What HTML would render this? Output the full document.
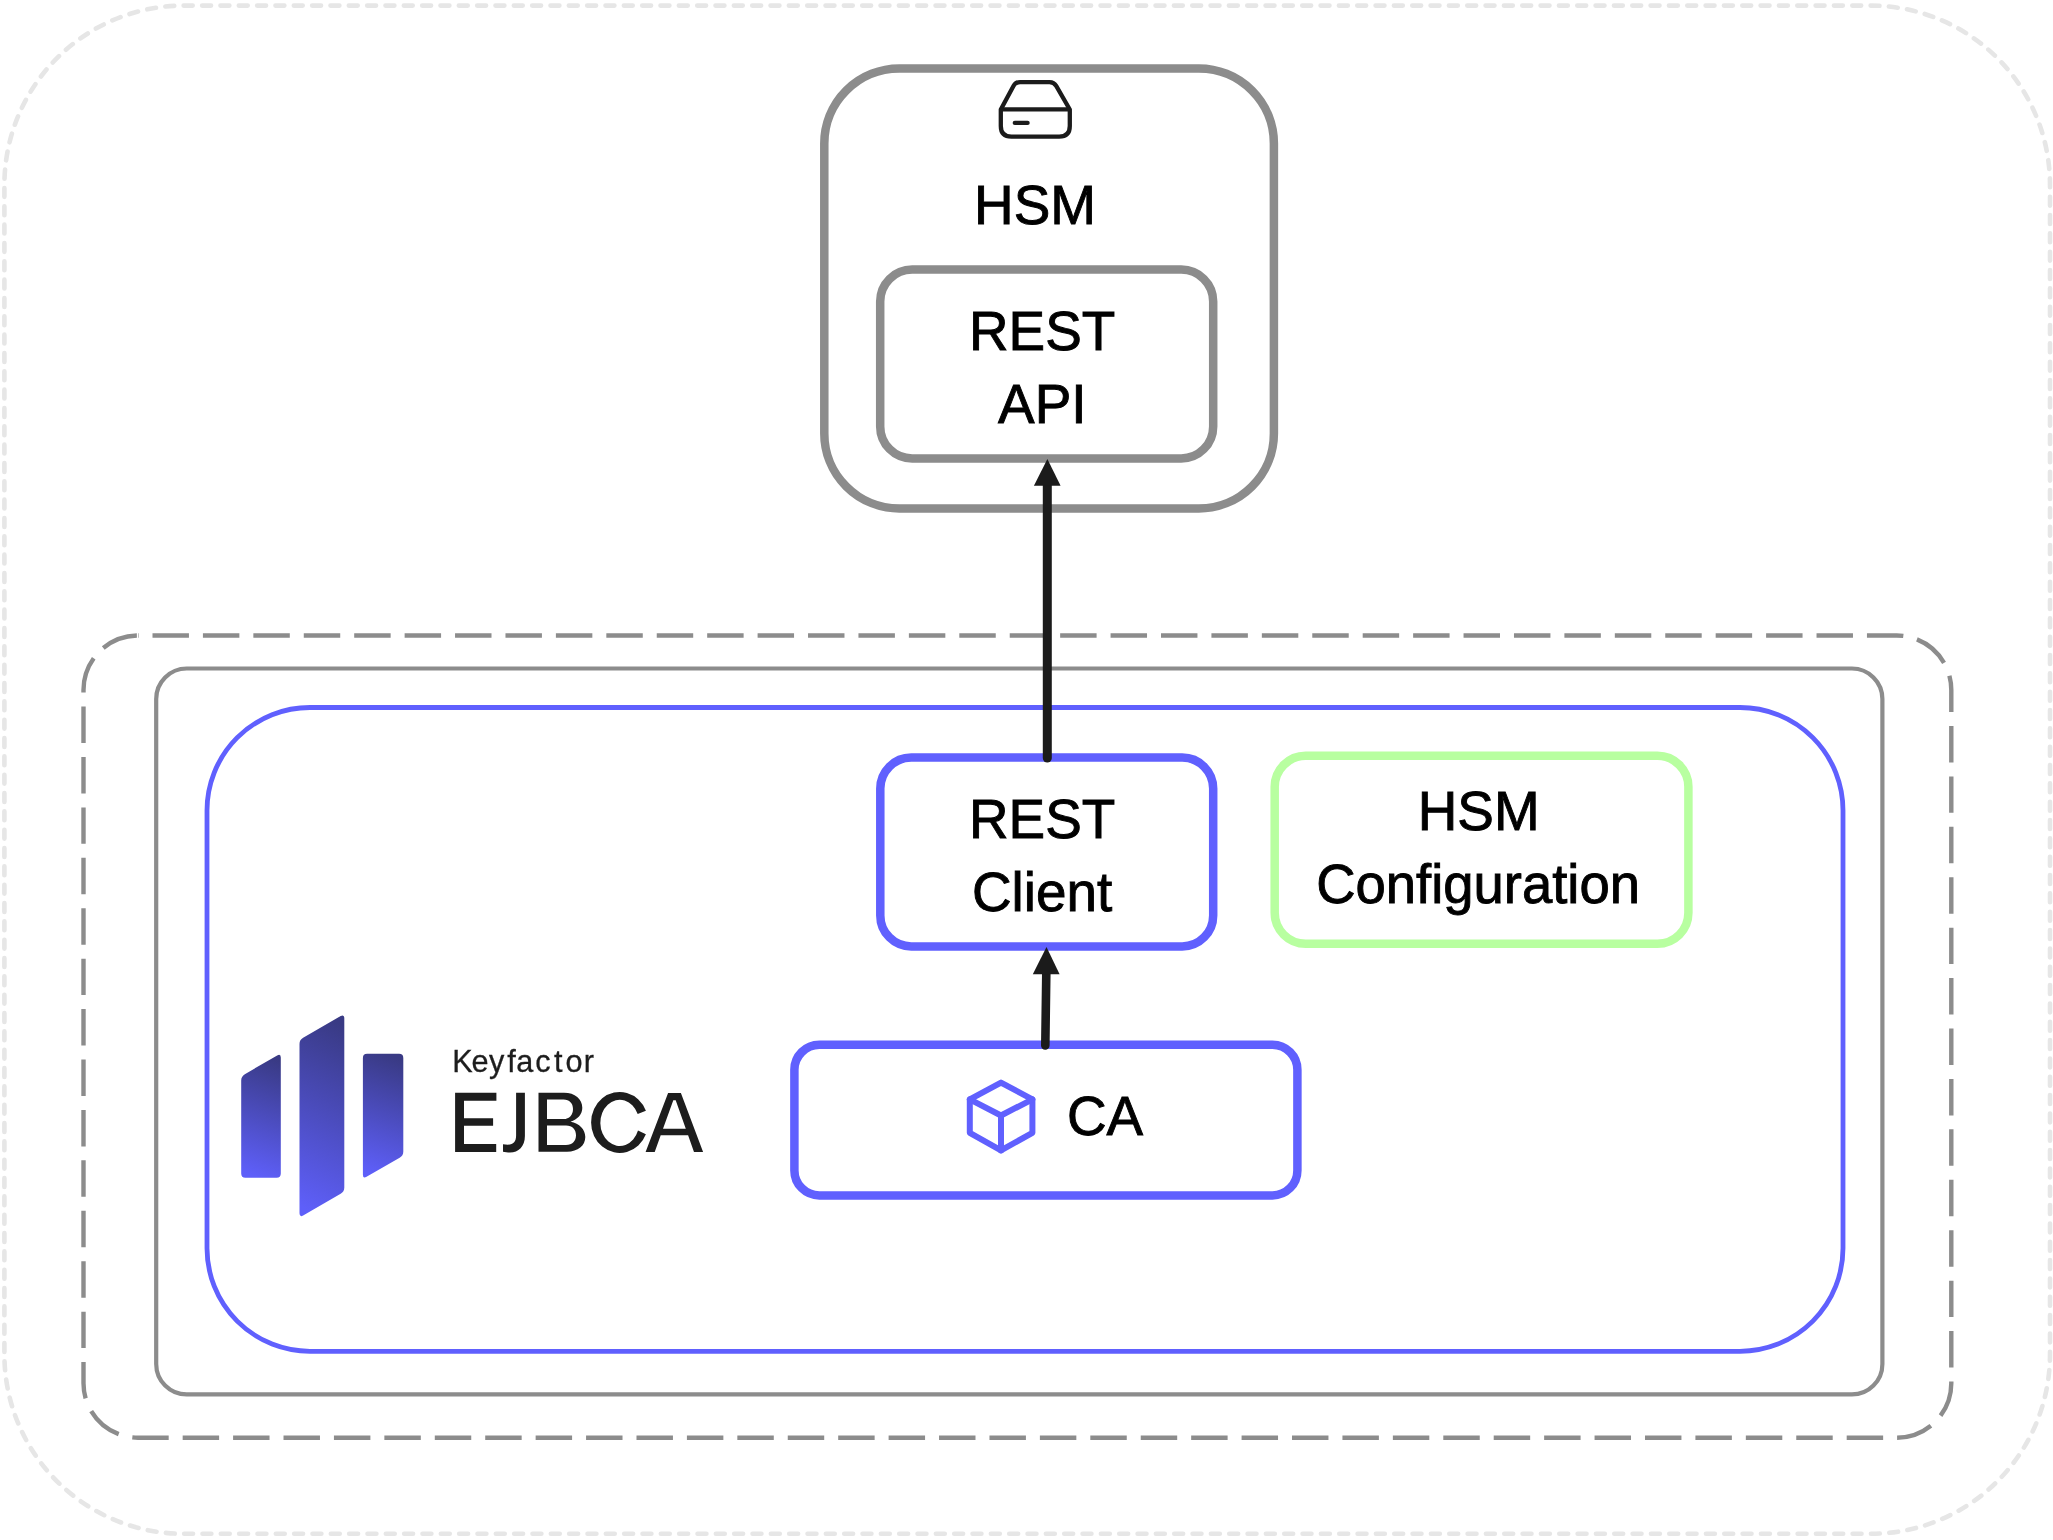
<!DOCTYPE html>
<html>
<head>
<meta charset="utf-8">
<style>
html,body{margin:0;padding:0;background:#ffffff;width:2053px;height:1540px;overflow:hidden;}
svg{display:block;}
text{font-family:"Liberation Sans",sans-serif;font-variant-ligatures:none;font-kerning:normal;}
</style>
</head>
<body>
<svg width="2053" height="1540" viewBox="0 0 2053 1540">
<defs>
<filter id="nf"><feOffset dx="0" dy="0"/></filter>
<linearGradient id="lg" x1="0.56" y1="0" x2="0.44" y2="1">
<stop offset="0" stop-color="#393a84"/>
<stop offset="1" stop-color="#5e5ff9"/>
</linearGradient>
</defs>
<rect width="2053" height="1540" fill="#ffffff"/>

<!-- outer light dashed border -->
<rect x="4.4" y="5.6" width="2045.6" height="1528.2" rx="179.4" ry="179.4" fill="none" stroke="#e6e6e6" stroke-width="4.6" stroke-dasharray="8.9 9.435" stroke-linecap="round"/>

<!-- grey dashed rect -->
<path d="M138,635.5 L1896.8,635.5 A54.5,54.5 0 0 1 1951.3,690 L1951.3,1383.2 A54.5,54.5 0 0 1 1896.8,1437.7 L138,1437.7 A54.5,54.5 0 0 1 83.5,1383.2 L83.5,690 A54.5,54.5 0 0 1 138,635.5 Z" fill="none" stroke="#8c8c8c" stroke-width="4.4" stroke-dasharray="36.45 13.975" stroke-dashoffset="35.925"/>

<!-- grey solid rect -->
<rect x="156.2" y="668.5" width="1726.2" height="725.9" rx="30.5" ry="30.5" fill="none" stroke="#8c8c8c" stroke-width="4.2"/>

<!-- big blue rect -->
<rect x="207.0" y="707.5" width="1636" height="643.8" rx="103" ry="103" fill="none" stroke="#6060fe" stroke-width="4.8"/>

<!-- HSM outer -->
<rect x="824.3" y="68.5" width="449.6" height="439.9" rx="75" ry="75" fill="#ffffff" stroke="#8c8c8c" stroke-width="8.5"/>
<!-- REST API -->
<rect x="880.2" y="269.6" width="333" height="188.8" rx="32" ry="32" fill="#ffffff" stroke="#8c8c8c" stroke-width="8.5"/>

<!-- REST Client -->
<rect x="880.3" y="757.6" width="332.9" height="188.8" rx="31" ry="31" fill="#ffffff" stroke="#6060fe" stroke-width="8.5"/>
<!-- HSM Configuration -->
<rect x="1274.7" y="755.8" width="413.7" height="188" rx="31" ry="31" fill="#ffffff" stroke="#b8ffa0" stroke-width="8.5"/>
<!-- CA -->
<rect x="794.4" y="1044.8" width="503" height="150.6" rx="25" ry="25" fill="#ffffff" stroke="#6060fe" stroke-width="8.5"/>

<!-- arrows -->
<line x1="1047.3" y1="484" x2="1047.3" y2="758" stroke="#1b1b1b" stroke-width="9" stroke-linecap="round"/>
<path d="M1047.4,459.1 L1060.6,485.8 L1033.9,485.8 Z" fill="#1b1b1b"/>
<line x1="1046.3" y1="973" x2="1045.3" y2="1045.5" stroke="#1b1b1b" stroke-width="8.6" stroke-linecap="round"/>
<path d="M1046.5,947.1 L1059.6,974.2 L1032.8,974.2 Z" fill="#1b1b1b"/>

<!-- HSM icon -->
<g fill="none" stroke="#1b1b1b" stroke-width="4.3" stroke-linecap="round" stroke-linejoin="round">
<path d="M1020,82.1 L1049.5,82.1 Q1054,82.1 1056.2,85.8 L1069.8,109.5 L1069.8,126 Q1069.8,136.6 1059.2,136.6 L1011.4,136.6 Q1000.8,136.6 1000.8,126 L1000.8,109.5 L1013.6,85.8 Q1015.7,82.1 1020,82.1 Z"/>
<path d="M1001,109.3 L1069.6,109.3" stroke-linecap="butt"/>
<path d="M1014.8,122.9 L1027.6,122.9"/>
</g>

<!-- cube icon -->
<g fill="none" stroke="#6060fe" stroke-width="6" stroke-linecap="round" stroke-linejoin="round">
<path d="M1001,1082.6 L1032.4,1099.3 L1032.4,1132.8 L1001,1150.4 L969.8,1132.8 L969.8,1099.3 Z"/>
<path d="M969.8,1099.3 L1001,1115.5 L1032.4,1099.3"/>
<path d="M1001,1115.5 L1001,1150.4"/>
</g>

<!-- texts -->
<g font-size="54.86" fill="#000000" stroke="#000000" stroke-width="0.9">
<text transform="translate(974.05,223.65) scale(1,1.024)">HSM</text>
<text transform="translate(968.95,349.70) scale(1,1.024)">REST</text>
<text transform="translate(998.04,422.90) scale(1,1.024)">API</text>
<text transform="translate(968.95,837.90) scale(1,1.024)">REST</text>
<text transform="translate(971.96,910.80) scale(1,1.024)">Client</text>
<text transform="translate(1417.75,830.00) scale(1,1.024)">HSM</text>
<text transform="translate(1316.29,902.90) scale(0.992,1.024)">Configuration</text>
<text transform="translate(1066.96,1134.90) scale(1,1.024)">CA</text>
</g>

<!-- EJBCA logo -->
<g fill="url(#lg)">
<path d="M244.84,1074.16 L277.16,1055.50 Q280.80,1053.40 280.80,1057.60 L280.80,1173.60 Q280.80,1177.80 276.60,1177.80 L245.40,1177.80 Q241.20,1177.80 241.20,1173.60 L241.20,1080.46 Q241.20,1076.26 244.84,1074.16 Z"/>
<path d="M303.14,1037.77 L340.66,1016.10 Q344.30,1014.00 344.30,1018.20 L344.30,1187.50 Q344.30,1191.70 340.66,1193.80 L303.14,1215.47 Q299.50,1217.57 299.50,1213.37 L299.50,1044.07 Q299.50,1039.87 303.14,1037.77 Z"/>
<path d="M367.10,1053.80 L399.10,1053.80 Q403.30,1053.80 403.30,1058.00 L403.30,1151.40 Q403.30,1155.60 399.66,1157.70 L366.54,1176.82 Q362.90,1178.92 362.90,1174.72 L362.90,1058.00 Q362.90,1053.80 367.10,1053.80 Z"/>
</g>
<text transform="translate(0,1071.8) scale(1,1.01)" x="452.34 471.45 489.08 507.25 516.27 535.24 554.12 565.47 583.68" y="0" font-size="30.67" fill="#1d1d1d" stroke="#1d1d1d" stroke-width="0.3" filter="url(#nf)">Keyfactor</text>
<g fill="#1d1d1d" fill-rule="evenodd">
<path d="M455.1,1092.7 H496.4 V1100.7 H464 V1118.2 H493.1 V1125.8 H464 V1144 H496.2 V1151.9 H455.1 Z"/>
<path d="M516.1,1092.7 H524.9 V1136 C524.9,1146.5 518.5,1152.6 510,1152.6 C507.5,1152.6 505,1152.3 503,1151.8 V1144.3 C504.5,1144.6 506,1144.7 508,1144.7 C513.5,1144.7 516.1,1141.5 516.1,1135.5 Z"/>
<path d="M538.5,1092.8 H564 C575,1092.8 582.3,1099 582.3,1107.8 C582.3,1114.5 577.5,1119.5 570.5,1121.8 C579.5,1123.5 585.3,1129.5 585.3,1137 C585.3,1145.5 578,1151.7 567,1151.7 H538.5 Z M547,1099.6 H563.5 C569.5,1099.6 573,1103.5 573,1109 C573,1115 569.5,1119.1 563.5,1119.1 H547 Z M547,1125.4 H566 C572.5,1125.4 576,1129.5 576,1135.2 C576,1141 572.5,1144.9 566,1144.9 H547 Z"/>
<path d="M645.9,1110.7 A28.5,30.45 0 1 0 645.9,1134.2 L638,1130.6 A19.4,23.15 0 1 1 637.7,1114.1 Z"/>
<path d="M645.6,1152 L668.1,1092.9 L680.9,1092.9 L703.1,1152 L694,1152 L688.1,1135.2 L660.7,1135.2 L654.7,1152 Z M663.0,1128.8 L685.8,1128.8 L675.7,1100.2 L673.3,1100.2 Z"/>
</g>
</svg>
</body>
</html>
